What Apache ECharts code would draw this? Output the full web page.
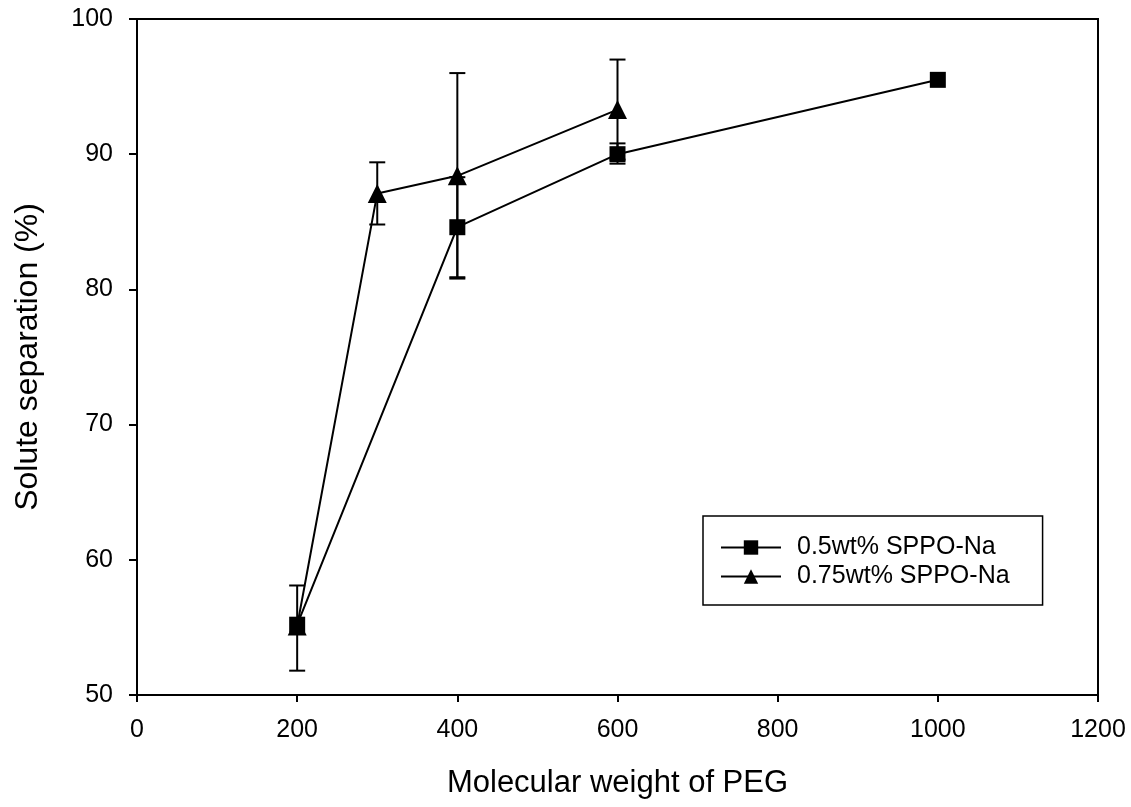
<!DOCTYPE html>
<html>
<head>
<meta charset="utf-8">
<script src="https://cdn.jsdelivr.net/npm/echarts@6/dist/echarts.min.js"></script>
<style>
  html, body { margin: 0; padding: 0; background: #fff; }
  #chart { width: 1131px; height: 807px; }
</style>
</head>
<body>
<div id="chart"></div>
<script>
(function () {

    'use strict';

    // 横轴：PEG 分子量
    var xTicks = [0, 200, 400, 600, 800, 1000, 1200];
    var yTicks = [50, 60, 70, 80, 90, 100];

    var seriesNames = ['0.5wt% SPPO-Na', '0.75wt% SPPO-Na'];

    // 0.5wt% SPPO-Na
    var mwA = [200, 400, 600, 1000];
    var sepA = [55.2, 84.6, 90.0, 95.5];
    var lowA = [51.8, 80.9, 89.3, null];
    var highA = [58.1, 88.3, 90.8, null];

    // 0.75wt% SPPO-Na
    var mwB = [200, 300, 400, 600];
    var sepB = [55.1, 87.1, 88.4, 93.3];
    var lowB = [null, 84.8, 80.8, 89.6];
    var highB = [null, 89.4, 96.0, 97.0];

    function pairs(xs, ys) {
        return xs.map(function (x, i) { return [x, ys[i]]; });
    }

    function errPairs(xs, lo, hi) {
        var out = [];
        xs.forEach(function (x, i) {
            if (lo[i] !== null) out.push([x, lo[i], hi[i]]);
        });
        return out;
    }

    // 误差棒
    function renderError(params, api) {
        var x = api.value(0);
        var top = api.coord([x, api.value(2)]);
        var bot = api.coord([x, api.value(1)]);
        var cap = 8;
        var style = { stroke: '#000', lineWidth: 2 };
        return {
            type: 'group',
            children: [
                { type: 'line', shape: { x1: top[0], y1: top[1], x2: bot[0], y2: bot[1] }, style: style },
                { type: 'line', shape: { x1: top[0] - cap, y1: top[1], x2: top[0] + cap, y2: top[1] }, style: style },
                { type: 'line', shape: { x1: bot[0] - cap, y1: bot[1], x2: bot[0] + cap, y2: bot[1] }, style: style }
            ]
        };
    }

    var font = 'Liberation Sans, Arial, sans-serif';
    var myChart = echarts.init(document.getElementById('chart'));

    var option = {
        animation: false,
        backgroundColor: '#fff',
        grid: {
            left: 137, right: 33, top: 19, bottom: 112,
            show: true, borderColor: '#000', borderWidth: 2
        },
        legend: {
            left: 703, top: 516,
            orient: 'vertical',
            itemWidth: 60, itemHeight: 18, itemGap: 0,
            padding: [17, 33, 14, 17],
            borderColor: '#000', borderWidth: 1.5,
            textStyle: { fontFamily: font, fontSize: 25, color: '#000', lineHeight: 29, padding: [0, 0, 0, 11] },
            data: seriesNames
        },
        xAxis: {
            type: 'value', min: 0, max: 1200, interval: 200,
            name: 'Molecular weight of PEG',
            nameLocation: 'middle', nameGap: 73,
            nameTextStyle: { fontFamily: font, fontSize: 31, color: '#000' },
            axisLine: { lineStyle: { color: '#000', width: 2 } },
            axisTick: { inside: false, length: 7, lineStyle: { color: '#000', width: 2 } },
            axisLabel: { fontFamily: font, fontSize: 25, color: '#000', margin: 23,
                formatter: function (v) { return xTicks.indexOf(v) >= 0 ? String(v) : ''; } },
            splitLine: { show: false }
        },
        yAxis: {
            type: 'value', min: 50, max: 100, interval: 10,
            name: 'Solute separation (%)',
            nameLocation: 'middle', nameGap: 93,
            nameTextStyle: { fontFamily: font, fontSize: 32, color: '#000' },
            axisLine: { lineStyle: { color: '#000', width: 2 } },
            axisTick: { inside: false, length: 8, lineStyle: { color: '#000', width: 2 } },
            axisLabel: { fontFamily: font, fontSize: 25, color: '#000', margin: 24,
                formatter: function (v) { return yTicks.indexOf(v) >= 0 ? String(v) : ''; } },
            splitLine: { show: false }
        },
        series: [
            {
                type: 'custom', renderItem: renderError, silent: true, z: 1,
                data: errPairs(mwA, lowA, highA)
            },
            {
                type: 'custom', renderItem: renderError, silent: true, z: 1,
                data: errPairs(mwB, lowB, highB)
            },
            {
                name: seriesNames[0], type: 'line', z: 3,
                data: pairs(mwA, sepA),
                symbol: 'rect', symbolSize: 16,
                itemStyle: { color: '#000' },
                lineStyle: { color: '#000', width: 2 }
            },
            {
                name: seriesNames[1], type: 'line', z: 3,
                data: pairs(mwB, sepB),
                symbol: 'triangle', symbolSize: 19,
                itemStyle: { color: '#000' },
                lineStyle: { color: '#000', width: 2 }
            }
        ]
    };

    myChart.setOption(option);
})();
</script>
</body>
</html>
